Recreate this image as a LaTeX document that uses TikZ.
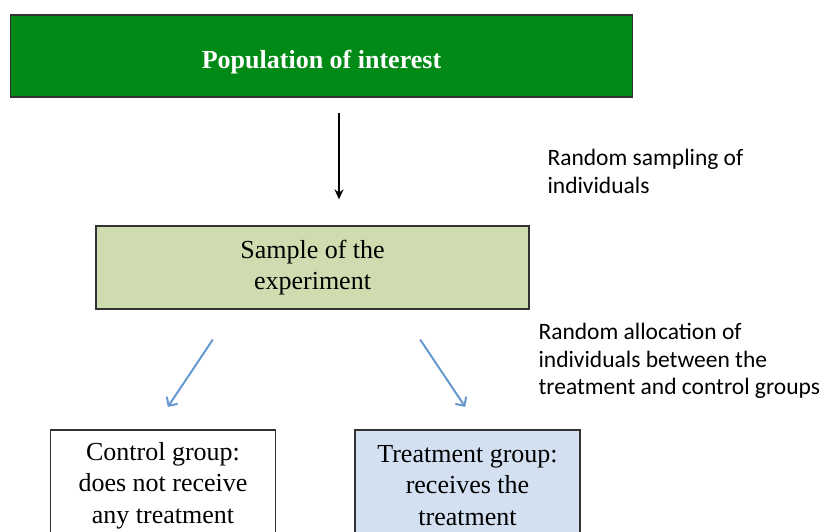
\documentclass[tikz,border=0pt]{standalone}
\usepackage{fontspec}
\setmainfont{Liberation Serif}
\newfontfamily\calibri{Carlito}
\usepackage{tikz}
\usetikzlibrary{arrows,arrows.meta}

\definecolor{popgreen}{RGB}{2,138,23}
\definecolor{samplegreen}{RGB}{207,220,176}
\definecolor{treatblue}{RGB}{211,224,241}
\definecolor{arrowblue}{RGB}{104,152,208}
\definecolor{boxline}{RGB}{50,50,50}

\begin{document}
\begin{tikzpicture}[x=1pt,y=-1pt,
    base box/.style={rectangle,draw=boxline,line width=1.3pt,align=center,
      font=\fontsize{26}{31.5}\selectfont},
    group box/.style={base box,minimum width=225pt,minimum height=111pt},
    note/.style={anchor=west,align=left,font=\calibri\fontsize{23.5}{27.8}\selectfont},
    alloc/.style={-{Straight Barb[length=6.5pt,width=13pt,line width=2pt]},
      draw=arrowblue,line width=2pt}]

  \useasboundingbox (0,0) rectangle (821,531);

  \node[base box,fill=popgreen,text=white,font=\bfseries\fontsize{26}{31}\selectfont,
    text height=24pt,text depth=0pt,
    minimum width=622pt,minimum height=82pt] (pop) at (321.5,56) {Population of interest};
  \node[base box,fill=samplegreen,minimum width=433pt,minimum height=83pt]
    (sample) at (312.5,267.5) {Sample of the\\experiment};

  \node[group box,fill=white] (control) at (163,485.5) {Control group:\\does not receive\\any treatment};
  \node[group box,fill=treatblue] (treat) at (467.5,485.5) {Treatment group:\\receives the\\treatment};

  \node[note] (sampling) at (544,171.5) {Random sampling of\\individuals};
  \node[note] (allocation) at (535,361) {Random allocation of\\individuals between the\\treatment and control groups};

  \draw[-{Stealth[length=10pt,width=9pt]},line width=1.5pt,shorten <=15pt,shorten >=26pt]
    ([xshift=17.5pt]pop.south) -- ([xshift=26.5pt]sample.north);
  \draw[alloc,shorten <=36pt,shorten >=27pt]
    ([xshift=-79.7pt]sample.south) -- ([xshift=-10.2pt]control.north);
  \draw[alloc,shorten <=36pt,shorten >=27pt]
    ([xshift=87.7pt]sample.south) -- ([xshift=12.7pt]treat.north);

\end{tikzpicture}
\end{document}
